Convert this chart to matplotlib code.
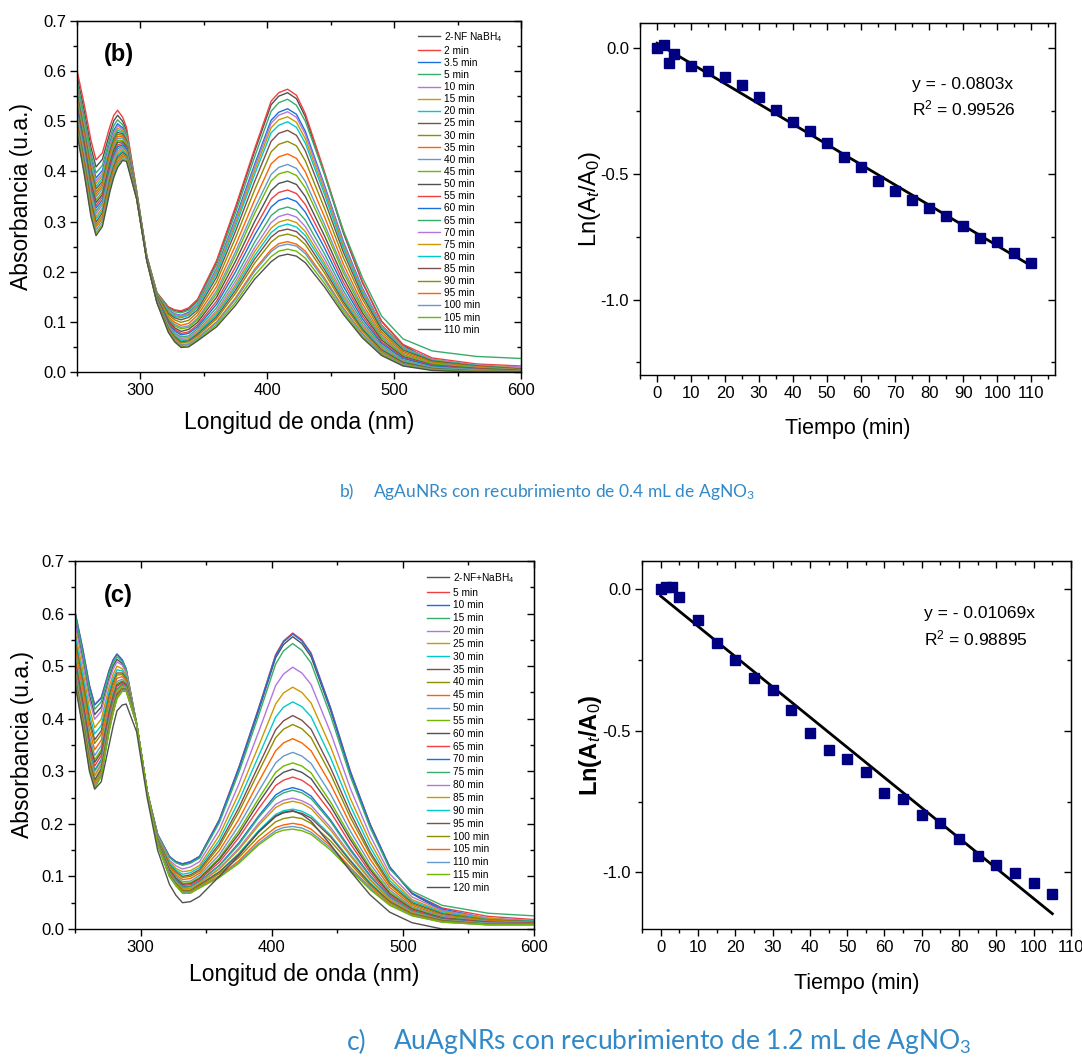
import matplotlib
matplotlib.use('Agg')
import matplotlib.pyplot as plt
from matplotlib.ticker import MultipleLocator, FormatStrFormatter
import numpy as np

plt.rcParams['font.family'] = 'Liberation Sans'
plt.rcParams['mathtext.fontset'] = 'custom'
plt.rcParams['mathtext.rm'] = 'Liberation Sans'
plt.rcParams['mathtext.it'] = 'Liberation Sans:italic'
plt.rcParams['mathtext.bf'] = 'Liberation Sans:bold'
plt.rcParams['axes.unicode_minus'] = False

# Origin default colour list
ORIGIN = ['#515151', '#F14040', '#1A6FDF', '#37AD6B', '#B177DE', '#CC9900',
          '#00CBCC', '#7D4E4E', '#8E8E00', '#FB6501', '#6699CC', '#6FB802']
NAVY = '#000080'
CAPTION_BLUE = '#3189c8'

# --- data -----------------------------------------------------------------
wl = [250, 256, 261, 265, 270, 276, 279, 282, 286, 289, 297, 305, 313, 322,
      327, 332, 338, 345, 360, 375, 390, 403, 409, 416, 423, 430, 445, 460,
      475, 490, 507, 530, 565, 600]

labels_b = ['2-NF NaBH$_4$', '2 min', '3.5 min', '5 min', '10 min', '15 min',
            '20 min', '25 min', '30 min', '35 min', '40 min', '45 min', '50 min',
            '55 min', '60 min', '65 min', '70 min', '75 min', '80 min', '85 min',
            '90 min', '95 min', '100 min', '105 min', '110 min']

abs_b = [
    [0.591, 0.517, 0.448, 0.409, 0.424, 0.478, 0.501, 0.512, 0.500, 0.482, 0.360, 0.231, 0.158, 0.129, 0.123, 0.120, 0.126, 0.143, 0.219, 0.326, 0.440, 0.533, 0.550, 0.557, 0.545, 0.509, 0.395, 0.277, 0.178, 0.101, 0.054, 0.020, 0.008, 0.004],
    [0.602, 0.530, 0.462, 0.423, 0.437, 0.490, 0.512, 0.522, 0.508, 0.488, 0.362, 0.232, 0.158, 0.130, 0.124, 0.122, 0.128, 0.145, 0.222, 0.330, 0.445, 0.540, 0.557, 0.564, 0.552, 0.515, 0.400, 0.280, 0.180, 0.102, 0.055, 0.028, 0.016, 0.012],
    [0.572, 0.496, 0.426, 0.387, 0.402, 0.459, 0.482, 0.495, 0.487, 0.472, 0.358, 0.230, 0.156, 0.124, 0.116, 0.113, 0.119, 0.135, 0.206, 0.307, 0.414, 0.502, 0.518, 0.525, 0.514, 0.480, 0.373, 0.260, 0.167, 0.094, 0.050, 0.025, 0.012, 0.008],
    [0.581, 0.506, 0.436, 0.397, 0.412, 0.468, 0.491, 0.503, 0.493, 0.476, 0.359, 0.230, 0.157, 0.127, 0.120, 0.118, 0.123, 0.140, 0.214, 0.318, 0.429, 0.520, 0.537, 0.544, 0.532, 0.500, 0.395, 0.282, 0.188, 0.112, 0.066, 0.042, 0.031, 0.027],
    [0.567, 0.491, 0.420, 0.381, 0.396, 0.454, 0.478, 0.491, 0.484, 0.469, 0.357, 0.229, 0.155, 0.123, 0.115, 0.112, 0.117, 0.134, 0.204, 0.303, 0.409, 0.496, 0.512, 0.519, 0.508, 0.474, 0.369, 0.257, 0.165, 0.093, 0.049, 0.025, 0.014, 0.010],
    [0.563, 0.486, 0.415, 0.376, 0.391, 0.449, 0.473, 0.486, 0.481, 0.467, 0.357, 0.229, 0.155, 0.121, 0.113, 0.110, 0.115, 0.131, 0.200, 0.297, 0.402, 0.487, 0.503, 0.509, 0.498, 0.465, 0.362, 0.252, 0.161, 0.091, 0.048, 0.024, 0.013, 0.008],
    [0.558, 0.481, 0.409, 0.370, 0.386, 0.445, 0.469, 0.482, 0.478, 0.464, 0.356, 0.229, 0.154, 0.120, 0.111, 0.108, 0.113, 0.129, 0.196, 0.291, 0.394, 0.477, 0.492, 0.499, 0.488, 0.456, 0.355, 0.247, 0.158, 0.088, 0.047, 0.023, 0.013, 0.006],
    [0.554, 0.476, 0.403, 0.365, 0.380, 0.440, 0.464, 0.478, 0.475, 0.462, 0.355, 0.228, 0.153, 0.117, 0.108, 0.104, 0.109, 0.124, 0.189, 0.281, 0.380, 0.460, 0.476, 0.482, 0.472, 0.441, 0.343, 0.239, 0.152, 0.085, 0.044, 0.022, 0.012, 0.006],
    [0.549, 0.471, 0.398, 0.359, 0.375, 0.435, 0.460, 0.474, 0.472, 0.459, 0.355, 0.228, 0.152, 0.114, 0.104, 0.099, 0.103, 0.119, 0.180, 0.268, 0.363, 0.439, 0.454, 0.460, 0.451, 0.421, 0.327, 0.228, 0.145, 0.080, 0.041, 0.020, 0.011, 0.005],
    [0.544, 0.466, 0.393, 0.354, 0.370, 0.431, 0.455, 0.470, 0.469, 0.457, 0.354, 0.227, 0.150, 0.110, 0.099, 0.093, 0.097, 0.113, 0.170, 0.253, 0.343, 0.415, 0.429, 0.435, 0.426, 0.399, 0.310, 0.215, 0.136, 0.075, 0.038, 0.018, 0.010, 0.004],
    [0.540, 0.461, 0.387, 0.349, 0.365, 0.426, 0.451, 0.466, 0.466, 0.455, 0.354, 0.227, 0.149, 0.107, 0.095, 0.089, 0.092, 0.107, 0.162, 0.240, 0.326, 0.394, 0.408, 0.414, 0.406, 0.380, 0.295, 0.205, 0.129, 0.071, 0.035, 0.017, 0.009, 0.004],
    [0.535, 0.456, 0.381, 0.343, 0.359, 0.421, 0.446, 0.462, 0.462, 0.452, 0.353, 0.227, 0.148, 0.105, 0.092, 0.086, 0.089, 0.104, 0.156, 0.232, 0.316, 0.381, 0.395, 0.400, 0.392, 0.367, 0.286, 0.198, 0.124, 0.068, 0.034, 0.016, 0.008, 0.003],
    [0.531, 0.451, 0.376, 0.338, 0.354, 0.416, 0.442, 0.458, 0.459, 0.450, 0.352, 0.226, 0.147, 0.102, 0.088, 0.081, 0.085, 0.099, 0.149, 0.221, 0.300, 0.362, 0.376, 0.381, 0.374, 0.350, 0.272, 0.188, 0.118, 0.064, 0.031, 0.014, 0.007, 0.003],
    [0.526, 0.446, 0.371, 0.332, 0.349, 0.412, 0.437, 0.453, 0.456, 0.447, 0.352, 0.226, 0.146, 0.099, 0.085, 0.077, 0.080, 0.094, 0.141, 0.210, 0.286, 0.345, 0.358, 0.363, 0.356, 0.334, 0.260, 0.179, 0.112, 0.060, 0.029, 0.013, 0.006, 0.002],
    [0.522, 0.441, 0.365, 0.327, 0.343, 0.407, 0.433, 0.449, 0.453, 0.445, 0.351, 0.226, 0.145, 0.096, 0.082, 0.074, 0.077, 0.090, 0.135, 0.200, 0.273, 0.329, 0.342, 0.347, 0.340, 0.319, 0.248, 0.171, 0.106, 0.057, 0.027, 0.012, 0.005, 0.002],
    [0.517, 0.436, 0.360, 0.321, 0.338, 0.402, 0.428, 0.445, 0.450, 0.442, 0.351, 0.225, 0.144, 0.094, 0.078, 0.070, 0.072, 0.086, 0.128, 0.189, 0.259, 0.312, 0.324, 0.329, 0.323, 0.303, 0.236, 0.162, 0.100, 0.053, 0.024, 0.010, 0.005, 0.002],
    [0.513, 0.431, 0.354, 0.316, 0.333, 0.398, 0.424, 0.441, 0.447, 0.440, 0.350, 0.225, 0.143, 0.091, 0.076, 0.067, 0.069, 0.082, 0.122, 0.181, 0.248, 0.298, 0.310, 0.315, 0.309, 0.290, 0.226, 0.155, 0.095, 0.050, 0.022, 0.009, 0.004, 0.001],
    [0.508, 0.425, 0.349, 0.310, 0.327, 0.393, 0.419, 0.437, 0.444, 0.437, 0.349, 0.225, 0.142, 0.090, 0.073, 0.064, 0.066, 0.079, 0.118, 0.174, 0.240, 0.287, 0.299, 0.304, 0.298, 0.280, 0.218, 0.150, 0.092, 0.048, 0.021, 0.008, 0.003, 0.001],
    [0.503, 0.420, 0.343, 0.305, 0.322, 0.388, 0.415, 0.433, 0.441, 0.435, 0.349, 0.224, 0.142, 0.088, 0.072, 0.062, 0.064, 0.077, 0.114, 0.169, 0.232, 0.278, 0.290, 0.295, 0.289, 0.272, 0.212, 0.145, 0.088, 0.046, 0.020, 0.008, 0.003, 0.001],
    [0.499, 0.415, 0.338, 0.299, 0.317, 0.384, 0.410, 0.429, 0.438, 0.432, 0.348, 0.224, 0.141, 0.087, 0.070, 0.060, 0.062, 0.075, 0.110, 0.163, 0.225, 0.269, 0.281, 0.285, 0.280, 0.263, 0.205, 0.140, 0.085, 0.044, 0.019, 0.007, 0.002, 0.001],
    [0.494, 0.410, 0.332, 0.294, 0.311, 0.379, 0.406, 0.425, 0.434, 0.430, 0.348, 0.224, 0.140, 0.085, 0.068, 0.058, 0.060, 0.072, 0.106, 0.157, 0.217, 0.259, 0.271, 0.275, 0.270, 0.254, 0.198, 0.135, 0.082, 0.041, 0.017, 0.006, 0.002, 0.001],
    [0.490, 0.405, 0.327, 0.289, 0.306, 0.374, 0.402, 0.420, 0.431, 0.427, 0.347, 0.223, 0.140, 0.083, 0.065, 0.055, 0.056, 0.068, 0.100, 0.148, 0.205, 0.244, 0.256, 0.260, 0.255, 0.241, 0.188, 0.128, 0.077, 0.038, 0.015, 0.005, 0.001, 0.001],
    [0.485, 0.400, 0.321, 0.283, 0.301, 0.369, 0.397, 0.416, 0.428, 0.425, 0.346, 0.223, 0.139, 0.082, 0.064, 0.053, 0.055, 0.067, 0.098, 0.145, 0.201, 0.240, 0.251, 0.255, 0.251, 0.236, 0.184, 0.125, 0.075, 0.037, 0.015, 0.005, 0.001, 0.001],
    [0.480, 0.395, 0.315, 0.277, 0.295, 0.365, 0.392, 0.412, 0.425, 0.422, 0.346, 0.222, 0.139, 0.081, 0.062, 0.051, 0.052, 0.064, 0.094, 0.139, 0.193, 0.230, 0.241, 0.245, 0.241, 0.227, 0.177, 0.120, 0.071, 0.035, 0.013, 0.004, 0.000, 0.000],
    [0.476, 0.390, 0.310, 0.272, 0.290, 0.360, 0.388, 0.408, 0.422, 0.420, 0.345, 0.222, 0.138, 0.079, 0.060, 0.049, 0.050, 0.062, 0.090, 0.133, 0.185, 0.220, 0.231, 0.235, 0.231, 0.218, 0.170, 0.115, 0.068, 0.033, 0.012, 0.003, 0.000, 0.000],
]

labels_c = ['2-NF+NaBH$_4$', '5 min', '10 min', '15 min', '20 min', '25 min',
            '30 min', '35 min', '40 min', '45 min', '50 min', '55 min', '60 min',
            '65 min', '70 min', '75 min', '80 min', '85 min', '90 min', '95 min',
            '100 min', '105 min', '110 min', '115 min', '120 min']

abs_c = [
    [0.588, 0.514, 0.445, 0.408, 0.422, 0.478, 0.500, 0.513, 0.505, 0.490, 0.390, 0.262, 0.180, 0.137, 0.127, 0.123, 0.127, 0.137, 0.206, 0.305, 0.415, 0.516, 0.541, 0.556, 0.543, 0.518, 0.415, 0.296, 0.198, 0.117, 0.067, 0.035, 0.018, 0.012],
    [0.604, 0.532, 0.464, 0.427, 0.440, 0.492, 0.512, 0.523, 0.512, 0.495, 0.390, 0.262, 0.180, 0.138, 0.128, 0.124, 0.128, 0.138, 0.208, 0.308, 0.420, 0.522, 0.548, 0.563, 0.550, 0.525, 0.420, 0.300, 0.200, 0.118, 0.068, 0.040, 0.024, 0.018],
    [0.603, 0.531, 0.463, 0.426, 0.439, 0.491, 0.511, 0.523, 0.512, 0.495, 0.390, 0.262, 0.180, 0.138, 0.128, 0.124, 0.128, 0.138, 0.207, 0.307, 0.419, 0.520, 0.546, 0.561, 0.548, 0.523, 0.419, 0.299, 0.199, 0.118, 0.068, 0.038, 0.020, 0.013],
    [0.597, 0.524, 0.455, 0.418, 0.432, 0.486, 0.506, 0.518, 0.509, 0.493, 0.390, 0.262, 0.179, 0.136, 0.126, 0.121, 0.125, 0.135, 0.202, 0.298, 0.406, 0.504, 0.529, 0.543, 0.530, 0.506, 0.405, 0.290, 0.193, 0.114, 0.072, 0.045, 0.030, 0.025],
    [0.581, 0.506, 0.436, 0.399, 0.414, 0.472, 0.494, 0.508, 0.502, 0.488, 0.390, 0.262, 0.177, 0.131, 0.120, 0.114, 0.118, 0.128, 0.189, 0.276, 0.375, 0.463, 0.485, 0.498, 0.487, 0.465, 0.373, 0.267, 0.178, 0.105, 0.061, 0.035, 0.021, 0.016],
    [0.567, 0.491, 0.420, 0.383, 0.399, 0.460, 0.484, 0.500, 0.495, 0.483, 0.390, 0.262, 0.175, 0.128, 0.115, 0.109, 0.111, 0.121, 0.178, 0.258, 0.348, 0.428, 0.449, 0.460, 0.450, 0.430, 0.346, 0.248, 0.166, 0.098, 0.056, 0.033, 0.020, 0.015],
    [0.557, 0.480, 0.408, 0.371, 0.387, 0.451, 0.476, 0.493, 0.491, 0.480, 0.390, 0.262, 0.173, 0.125, 0.112, 0.104, 0.107, 0.117, 0.169, 0.244, 0.329, 0.403, 0.422, 0.432, 0.423, 0.404, 0.325, 0.234, 0.156, 0.092, 0.053, 0.031, 0.018, 0.015],
    [0.548, 0.470, 0.397, 0.360, 0.377, 0.443, 0.469, 0.487, 0.487, 0.477, 0.390, 0.262, 0.172, 0.122, 0.109, 0.100, 0.103, 0.113, 0.162, 0.231, 0.311, 0.379, 0.396, 0.406, 0.397, 0.380, 0.306, 0.221, 0.147, 0.087, 0.050, 0.029, 0.017, 0.014],
    [0.542, 0.464, 0.390, 0.353, 0.370, 0.438, 0.464, 0.483, 0.484, 0.475, 0.390, 0.262, 0.171, 0.120, 0.107, 0.098, 0.100, 0.110, 0.157, 0.223, 0.299, 0.364, 0.380, 0.389, 0.381, 0.364, 0.294, 0.212, 0.142, 0.084, 0.048, 0.027, 0.017, 0.013],
    [0.532, 0.453, 0.378, 0.341, 0.359, 0.429, 0.457, 0.477, 0.480, 0.472, 0.390, 0.262, 0.169, 0.118, 0.103, 0.094, 0.096, 0.106, 0.149, 0.209, 0.280, 0.339, 0.354, 0.362, 0.354, 0.339, 0.275, 0.199, 0.133, 0.079, 0.045, 0.025, 0.015, 0.013],
    [0.522, 0.443, 0.367, 0.330, 0.349, 0.421, 0.450, 0.471, 0.475, 0.469, 0.390, 0.262, 0.168, 0.115, 0.100, 0.090, 0.091, 0.102, 0.141, 0.197, 0.262, 0.316, 0.329, 0.336, 0.329, 0.315, 0.256, 0.186, 0.124, 0.074, 0.042, 0.024, 0.014, 0.012],
    [0.515, 0.435, 0.359, 0.322, 0.341, 0.415, 0.444, 0.467, 0.472, 0.467, 0.390, 0.262, 0.167, 0.113, 0.098, 0.087, 0.088, 0.098, 0.135, 0.187, 0.248, 0.298, 0.310, 0.316, 0.310, 0.297, 0.241, 0.176, 0.117, 0.070, 0.040, 0.022, 0.013, 0.011],
    [0.511, 0.430, 0.354, 0.317, 0.336, 0.411, 0.441, 0.464, 0.470, 0.465, 0.390, 0.262, 0.166, 0.112, 0.096, 0.085, 0.086, 0.096, 0.132, 0.181, 0.240, 0.287, 0.298, 0.304, 0.298, 0.286, 0.233, 0.170, 0.113, 0.067, 0.038, 0.021, 0.013, 0.011],
    [0.506, 0.424, 0.347, 0.310, 0.330, 0.406, 0.437, 0.461, 0.468, 0.463, 0.390, 0.262, 0.165, 0.110, 0.094, 0.083, 0.084, 0.094, 0.127, 0.174, 0.229, 0.273, 0.283, 0.289, 0.283, 0.271, 0.222, 0.162, 0.108, 0.064, 0.036, 0.020, 0.012, 0.011],
    [0.498, 0.416, 0.339, 0.302, 0.322, 0.400, 0.432, 0.456, 0.465, 0.461, 0.390, 0.262, 0.164, 0.108, 0.092, 0.080, 0.081, 0.091, 0.121, 0.164, 0.215, 0.255, 0.264, 0.269, 0.264, 0.253, 0.207, 0.152, 0.102, 0.061, 0.034, 0.019, 0.011, 0.010],
    [0.497, 0.414, 0.337, 0.300, 0.320, 0.398, 0.430, 0.455, 0.464, 0.461, 0.390, 0.262, 0.164, 0.108, 0.091, 0.079, 0.080, 0.090, 0.120, 0.161, 0.212, 0.250, 0.259, 0.264, 0.259, 0.248, 0.204, 0.149, 0.100, 0.060, 0.034, 0.018, 0.011, 0.010],
    [0.491, 0.408, 0.330, 0.293, 0.314, 0.394, 0.426, 0.451, 0.461, 0.459, 0.390, 0.262, 0.163, 0.106, 0.089, 0.077, 0.077, 0.088, 0.115, 0.154, 0.201, 0.237, 0.245, 0.249, 0.244, 0.235, 0.193, 0.142, 0.095, 0.057, 0.032, 0.017, 0.011, 0.010],
    [0.489, 0.406, 0.328, 0.291, 0.311, 0.392, 0.424, 0.450, 0.461, 0.458, 0.390, 0.262, 0.163, 0.105, 0.089, 0.076, 0.077, 0.087, 0.114, 0.151, 0.197, 0.231, 0.239, 0.243, 0.239, 0.229, 0.188, 0.139, 0.093, 0.055, 0.031, 0.017, 0.010, 0.009],
    [0.484, 0.400, 0.321, 0.284, 0.305, 0.387, 0.420, 0.447, 0.458, 0.456, 0.390, 0.262, 0.162, 0.104, 0.087, 0.074, 0.074, 0.084, 0.109, 0.144, 0.187, 0.218, 0.225, 0.228, 0.224, 0.215, 0.178, 0.131, 0.088, 0.052, 0.029, 0.016, 0.010, 0.009],
    [0.482, 0.398, 0.320, 0.283, 0.304, 0.386, 0.419, 0.446, 0.457, 0.456, 0.390, 0.262, 0.162, 0.103, 0.086, 0.073, 0.073, 0.084, 0.108, 0.142, 0.184, 0.214, 0.221, 0.224, 0.220, 0.211, 0.175, 0.129, 0.086, 0.052, 0.029, 0.016, 0.009, 0.009],
    [0.478, 0.394, 0.315, 0.278, 0.299, 0.382, 0.416, 0.443, 0.456, 0.455, 0.390, 0.262, 0.161, 0.102, 0.085, 0.072, 0.072, 0.082, 0.105, 0.136, 0.176, 0.204, 0.210, 0.213, 0.210, 0.201, 0.167, 0.124, 0.083, 0.050, 0.028, 0.015, 0.009, 0.009],
    [0.474, 0.389, 0.310, 0.273, 0.294, 0.378, 0.413, 0.440, 0.454, 0.453, 0.390, 0.262, 0.161, 0.101, 0.083, 0.070, 0.070, 0.080, 0.101, 0.130, 0.168, 0.193, 0.198, 0.201, 0.198, 0.190, 0.158, 0.117, 0.079, 0.047, 0.026, 0.014, 0.008, 0.008],
    [0.472, 0.387, 0.307, 0.270, 0.292, 0.377, 0.411, 0.439, 0.453, 0.453, 0.390, 0.262, 0.160, 0.100, 0.083, 0.069, 0.069, 0.079, 0.099, 0.127, 0.163, 0.187, 0.193, 0.195, 0.192, 0.184, 0.154, 0.114, 0.077, 0.046, 0.026, 0.013, 0.008, 0.008],
    [0.470, 0.385, 0.305, 0.268, 0.290, 0.375, 0.410, 0.438, 0.452, 0.452, 0.390, 0.262, 0.160, 0.100, 0.082, 0.068, 0.068, 0.078, 0.098, 0.125, 0.160, 0.183, 0.188, 0.190, 0.187, 0.180, 0.150, 0.112, 0.075, 0.045, 0.025, 0.013, 0.008, 0.008],
    [0.468, 0.380, 0.300, 0.266, 0.280, 0.350, 0.385, 0.415, 0.426, 0.428, 0.375, 0.250, 0.150, 0.085, 0.064, 0.050, 0.052, 0.062, 0.100, 0.140, 0.185, 0.215, 0.222, 0.225, 0.218, 0.205, 0.160, 0.110, 0.065, 0.032, 0.012, 0.000, -0.002, -0.002],
]

# kinetics: ln(At/A0) vs time
t_b = [0, 2, 3.5, 5, 10, 15, 20, 25, 30, 35, 40, 45, 50, 55, 60, 65, 70, 75,
       80, 85, 90, 95, 100, 105, 110]
ln_b = [0.0, 0.013, -0.060, -0.024, -0.070, -0.090, -0.115, -0.146, -0.195,
        -0.245, -0.294, -0.328, -0.378, -0.431, -0.473, -0.527, -0.568, -0.603,
        -0.634, -0.666, -0.706, -0.756, -0.772, -0.815, -0.855]

t_c = [0, 1.5, 3, 5, 10, 15, 20, 25, 30, 35, 40, 45, 50, 55, 60, 65, 70, 75,
       80, 85, 90, 95, 100, 105]
ln_c = [0.0, 0.008, 0.008, -0.028, -0.109, -0.189, -0.250, -0.315, -0.356,
        -0.427, -0.506, -0.566, -0.598, -0.647, -0.718, -0.739, -0.796, -0.824,
        -0.881, -0.942, -0.973, -1.001, -1.036, -1.078]

eq_b = ['y = - 0.0803x', 'R$^2$ = 0.99526']
eq_c = ['y = - 0.01069x', 'R$^2$ = 0.98895']


# --- helpers --------------------------------------------------------------
def origin_frame(ax, xmaj, xmin, ymaj, ymin, yfmt):
    ax.xaxis.set_major_locator(MultipleLocator(xmaj))
    ax.xaxis.set_minor_locator(MultipleLocator(xmin))
    ax.yaxis.set_major_locator(MultipleLocator(ymaj))
    ax.yaxis.set_minor_locator(MultipleLocator(ymin))
    ax.yaxis.set_major_formatter(FormatStrFormatter(yfmt))
    ax.tick_params(which='both', direction='out', width=1, labelsize=12, pad=3)
    ax.tick_params(which='major', length=5)
    ax.tick_params(which='minor', length=3)
    for s in ax.spines.values():
        s.set_linewidth(1)
    top = ax.secondary_xaxis('top')
    top.xaxis.set_major_locator(MultipleLocator(xmaj))
    top.xaxis.set_minor_locator(MultipleLocator(xmin))
    top.tick_params(which='both', direction='in', width=1, labeltop=False)
    top.tick_params(which='major', length=5)
    top.tick_params(which='minor', length=3)
    right = ax.secondary_yaxis('right')
    right.yaxis.set_major_locator(MultipleLocator(ymaj))
    right.yaxis.set_minor_locator(MultipleLocator(ymin))
    right.tick_params(which='both', direction='in', width=1, labelright=False)
    right.tick_params(which='major', length=5)
    right.tick_params(which='minor', length=3)


def spectra_panel(ax, data, labels, tag, leg_anchor, leg_spacing, ylab_x, xlab_y):
    for i, row in enumerate(data):
        ax.plot(wl, row, color=ORIGIN[i % len(ORIGIN)], lw=1.0, label=labels[i])
    ax.set_xlim(250, 600)
    ax.set_ylim(0, 0.7)
    origin_frame(ax, 100, 50, 0.1, 0.05, '%.1f')
    ax.set_xlabel('Longitud de onda (nm)', fontsize=16.5)
    ax.set_ylabel('Absorbancia (u.a.)', fontsize=16.5)
    ax.xaxis.label.set_va('center')
    ax.yaxis.label.set_va('center')
    ax.xaxis.set_label_coords(0.5, xlab_y)
    ax.yaxis.set_label_coords(ylab_x, 0.5)
    ax.text(0.095, 0.905, tag, transform=ax.transAxes, fontsize=17,
            fontweight='bold', ha='center', va='center')
    ax.legend(loc='upper left', bbox_to_anchor=leg_anchor, frameon=False,
              fontsize=7.3, handlelength=2.2, handletextpad=0.4,
              labelspacing=leg_spacing, borderaxespad=0, borderpad=0)


def kinetics_panel(ax, t, y, xlim, ylim, eq, eq_xy, bold_label, ylab_x, xlab_y):
    ax.plot(t, y, 's', color=NAVY, markersize=7, mec=NAVY, zorder=3)
    k, b = np.polyfit(t, y, 1)
    tt = np.array([min(t), max(t)])
    ax.plot(tt, k * tt + b, color='black', lw=2, zorder=2)
    ax.set_xlim(*xlim)
    ax.set_ylim(*ylim)
    origin_frame(ax, 10, 5, 0.5, 0.25, '%.1f')
    ax.set_xlabel('Tiempo (min)', fontsize=15.5)
    ax.set_ylabel(r'Ln(A$_t$/A$_0$)', fontsize=17,
                  fontweight='bold' if bold_label else 'normal')
    ax.xaxis.label.set_va('center')
    ax.yaxis.label.set_va('center')
    ax.xaxis.set_label_coords(0.5, xlab_y)
    ax.yaxis.set_label_coords(ylab_x, 0.5)
    ax.text(eq_xy[0], eq_xy[1], eq[0], fontsize=12.5, ha='left', va='center')
    ax.text(eq_xy[0], eq_xy[2], eq[1], fontsize=12.5, ha='left', va='center')


# --- figure ---------------------------------------------------------------
W, H = 1082, 1064
fig = plt.figure(figsize=(W / 100, H / 100), dpi=100)
fig.patch.set_facecolor('white')


def px_axes(x0, y0, x1, y1):
    return fig.add_axes([x0 / W, 1 - y1 / H, (x1 - x0) / W, (y1 - y0) / H])


ax_b = px_axes(77, 21, 521, 372)
ax_kb = px_axes(640, 23, 1055, 375)
ax_c = px_axes(75, 561, 534, 929)
ax_kc = px_axes(642, 561, 1071, 929)

spectra_panel(ax_b, abs_b, labels_b, '(b)', (0.768, 0.975), 0.21, -0.124, -0.145)
spectra_panel(ax_c, abs_c, labels_c, '(c)', (0.767, 0.973), 0.28, -0.115, -0.125)

kinetics_panel(ax_kb, t_b, ln_b, (-5, 117), (-1.3, 0.1), eq_b,
               (75, -0.146, -0.241), False, -0.12, -0.151)
kinetics_panel(ax_kc, t_c, ln_c, (-5, 110), (-1.2, 0.1), eq_c,
               (70.7, -0.085, -0.173), True, -0.121, -0.147)

# captions
fig.text(340 / W, 1 - 492 / H, 'b)', fontsize=12.5, color=CAPTION_BLUE,
         family='Lato', va='center', ha='left')
fig.text(373 / W, 1 - 492 / H, r'AgAuNRs con recubrimiento de 0.4 mL de AgNO$_\mathregular{3}$',
         fontsize=12.5, color=CAPTION_BLUE, family='Lato', va='center', ha='left')
fig.text(347 / W, 1 - 1042 / H, 'c)', fontsize=19, color=CAPTION_BLUE,
         family='Lato', va='center', ha='left')
fig.text(393 / W, 1 - 1042 / H, r'AuAgNRs con recubrimiento de 1.2 mL de AgNO$_\mathregular{3}$',
         fontsize=19, color=CAPTION_BLUE, family='Lato', va='center', ha='left')

fig.savefig('out.png', dpi=100, facecolor='white')
